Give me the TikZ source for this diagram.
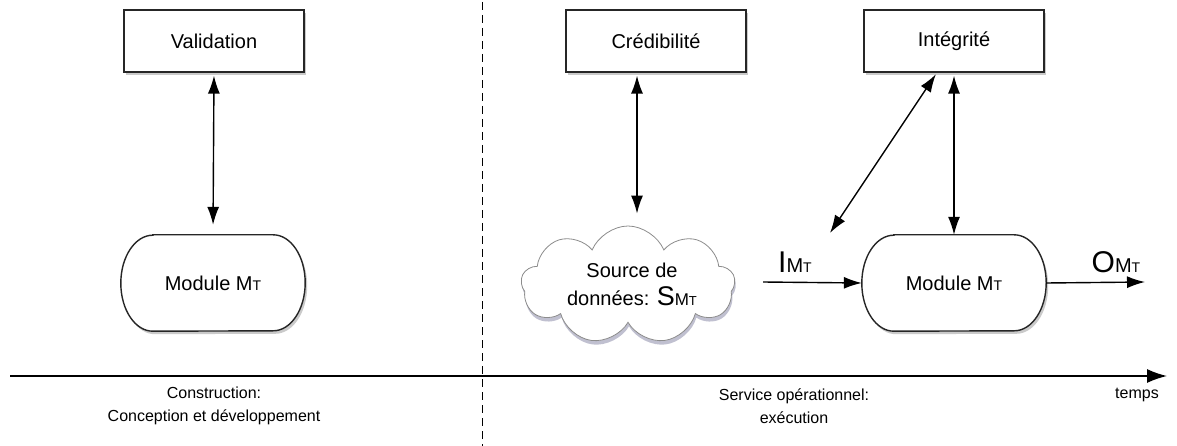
\documentclass[tikz,border=0pt]{standalone}
\usepackage{fontspec}
\setmainfont{Liberation Sans}
\usetikzlibrary{arrows.meta,shapes.symbols,shadows,calc}
\newcommand\smT{{\fontsize{14}{14}\selectfont T}}
\newcommand\lblMT{{\fontsize{20}{20}\selectfont M}{\fontsize{14}{14}\selectfont T}}
\begin{document}
\begin{tikzpicture}[x=1pt,y=-1pt,
  font=\fontsize{20}{24}\selectfont,
  lbox/.style={draw=black!85,line width=1.2pt,fill=white,minimum width=180pt,minimum height=62pt,inner sep=0pt,
    drop shadow={shadow xshift=2pt,shadow yshift=-3pt,opacity=0.35,fill=black!60}},
  pillbase/.style={minimum width=184pt,minimum height=96pt,inner sep=0pt},
  pillline/.style={draw=black!85,line width=1.4pt,fill=white,
    drop shadow={shadow xshift=2pt,shadow yshift=-3pt,opacity=0.35,fill=black!60}},
  arr/.style={line width=1.4pt,-{Latex[length=18pt,width=12pt]}},
  dbl/.style={line width=1.4pt,{Latex[length=18pt,width=12pt]}-{Latex[length=18pt,width=12pt]}},
  txt/.style={inner sep=0pt,align=center},
  small/.style={inner sep=0pt,align=center,font=\fontsize{16}{23}\selectfont}]
\useasboundingbox (0,0) rectangle (1177,446);

% dashed separator
\coordinate (dt) at (482,2);
\coordinate (db) at (482,446);
\draw[line width=1pt,dash pattern=on 8pt off 5pt] (dt) -- (db);

% time axis
\coordinate (ax0) at (10,376);
\coordinate (ax1) at (1167,376);
\draw[line width=1.5pt,-{Latex[length=20pt,width=14pt]}] (ax0) -- (ax1);

% boxes
\node[lbox] (val) at (214,41) {Validation};
\node[lbox] (cred) at (656,41) {Crédibilité};
\node[lbox] (integ) at (954,41) {Intégrité};

% left module
\node[pillbase] (mL) at (213,283) {};
\draw[pillline] ([xshift=32pt]mL.north west) -- ([xshift=-32pt]mL.north east)
  arc[start angle=90,end angle=-90,x radius=32pt,y radius=48pt]
  -- ([xshift=32pt]mL.south west)
  arc[start angle=270,end angle=90,x radius=32pt,y radius=48pt] -- cycle;
\node[txt] at (mL.center) {Module M\smT};

% right module
\node[pillbase] (mR) at (954,283) {};
\draw[pillline] ([xshift=32pt]mR.north west) -- ([xshift=-32pt]mR.north east)
  arc[start angle=90,end angle=-90,x radius=32pt,y radius=48pt]
  -- ([xshift=32pt]mR.south west)
  arc[start angle=270,end angle=90,x radius=32pt,y radius=48pt] -- cycle;
\node[txt] at (mR.center) {Module M\smT};

% cloud
\node[cloud,cloud puffs=9,cloud puff arc=135,aspect=1.9,draw=black!45,line width=0.8pt,fill=white,
  minimum width=214pt,minimum height=118pt,inner sep=0pt,
  drop shadow={shadow xshift=1pt,shadow yshift=-4pt,opacity=0.45,fill=blue!25!black!55}] (src) at (628,285) {};
\node[txt] at (632,284) {Source de\\[4pt]données: {\fontsize{27}{27}\selectfont S}{\fontsize{17}{17}\selectfont M}{\fontsize{13}{13}\selectfont T}};

% connectors
\draw[dbl,shorten >=10pt,shorten <=3pt] (val.south) -- (mL.north);
\draw[dbl,shorten >=12pt,shorten <=3pt] ([xshift=-19pt]cred.south) -- ([xshift=-19pt]cred.south |- src.north);
\draw[dbl,shorten <=3pt] (integ.south) -- (mR.north);
\coordinate (dgl) at (830,233);
\draw[dbl,shorten <=2pt] ([xshift=-17pt]integ.south) -- (dgl);
\coordinate (inS) at (763,282);
\draw[arr] (inS) -- (mR.west);
\coordinate (outE) at (1145,282);
\draw[arr] (mR.east) -- (outE);

% labels
\node[txt] (ilab) at (795,262) {{\fontsize{30}{30}\selectfont I}\lblMT};
\node[txt] (olab) at (1116,262) {{\fontsize{30}{30}\selectfont O}\lblMT};
\node[small] (lc) at (214,406) {Construction:\\Conception et développement};
\node[small] (ls) at (794,406) {Service opérationnel:\\exécution};
\node[small] (lt) at (1137,395) {temps};
\end{tikzpicture}
\end{document}
